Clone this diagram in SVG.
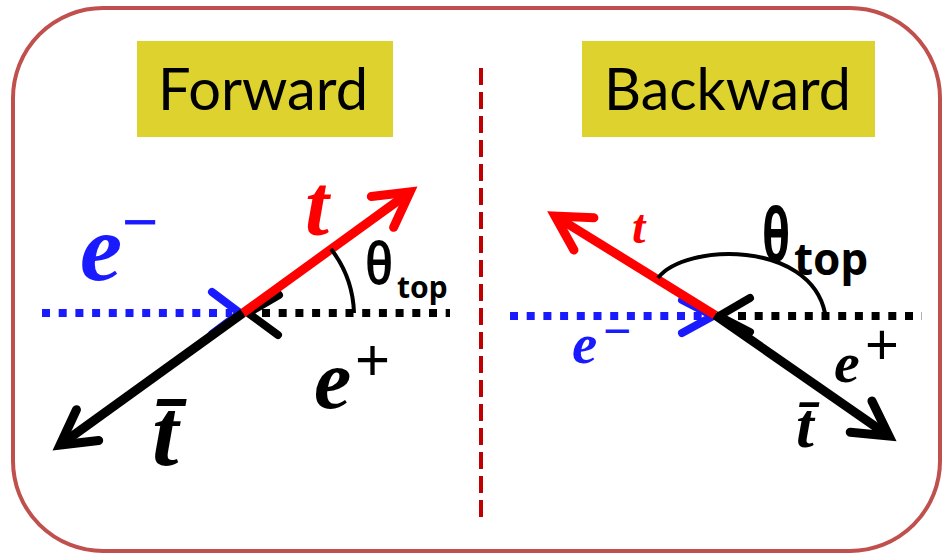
<svg xmlns="http://www.w3.org/2000/svg" width="943" height="555" viewBox="0 0 943 555">
<style>
.title{font-family:Lato,"Noto Sans","Liberation Sans",sans-serif;font-size:58px;fill:#000}
.m{font-family:"Liberation Serif","DejaVu Serif",serif;font-style:italic;font-weight:bold}
.op{font-family:"Liberation Sans",Arial,sans-serif;font-style:normal;font-weight:normal}
.th{font-family:"Noto Sans","Liberation Sans",sans-serif;fill:#000}
.dot{stroke-width:8;stroke-dasharray:8 8.7;fill:none}
.chev{stroke-width:8;fill:none;stroke-linecap:round;stroke-linejoin:miter}
.main{stroke-width:9;fill:none}
</style>
<defs>
<marker id="ahRed" markerUnits="userSpaceOnUse" orient="auto" refX="0" refY="0" overflow="visible">
<path d="M-34,-19 L0,0 L-34,19" fill="none" stroke="#ff0000" stroke-width="9" stroke-linecap="round"/>
</marker>
<marker id="ahBlack" markerUnits="userSpaceOnUse" orient="auto" refX="0" refY="0" overflow="visible">
<path d="M-34,-19 L0,0 L-34,19" fill="none" stroke="#000" stroke-width="9" stroke-linecap="round"/>
</marker>
</defs>
<rect id="frame" x="13" y="8" width="927" height="543" rx="90" ry="90" fill="#fff" stroke="#c0504d" stroke-width="4"/>
<line id="divider" x1="481" y1="68" x2="481" y2="518" stroke="#c00000" stroke-width="4" stroke-dasharray="17 7"/>
<g id="forward-title">
<rect x="137" y="41" width="256" height="96" fill="#ddd22e"/>
<text class="title" x="158" y="110" textLength="210" lengthAdjust="spacingAndGlyphs">Forward</text>
</g>
<g id="backward-title">
<rect x="582" y="41" width="293" height="96" fill="#ddd22e"/>
<text class="title" x="604" y="110" textLength="247" lengthAdjust="spacingAndGlyphs">Backward</text>
</g>
<g id="connectors">
<!-- forward -->
<line class="dot" x1="42" y1="313" x2="232" y2="313" stroke="#1a1aff"/>
<polyline class="chev" points="212,292 240,313 212,334" stroke="#1a1aff"/>
<line class="dot" x1="262" y1="313" x2="450" y2="313" stroke="#000"/>
<polyline class="chev" points="279,295 248,313 278,335" stroke="#000"/>
<line class="main" x1="243" y1="313" x2="60" y2="445" stroke="#000" marker-end="url(#ahBlack)"/>
<line class="main" x1="243" y1="313" x2="410" y2="192" stroke="#ff0000" marker-end="url(#ahRed)"/>
<path d="M331,249 A110,110 0 0 1 354,313" fill="none" stroke="#000" stroke-width="4"/>
<!-- backward -->
<line class="dot" x1="510" y1="316" x2="705" y2="316" stroke="#1a1aff"/>
<polyline class="chev" points="682,300 713,316 682,333" stroke="#1a1aff"/>
<line class="dot" x1="738" y1="316" x2="922" y2="316" stroke="#000"/>
<polyline class="chev" points="750,298 719,316 750,332" stroke="#000"/>
<line class="main" x1="715" y1="315" x2="889" y2="436" stroke="#000" marker-end="url(#ahBlack)"/>
<line class="main" x1="715" y1="315" x2="555" y2="216" stroke="#ff0000" marker-end="url(#ahRed)"/>
<path d="M658,278 C685,243 810,240 825,313" fill="none" stroke="#000" stroke-width="4"/>
</g>
<g id="forward-labels">
<text class="m" x="80" y="280" font-size="95" fill="#1a1aff">e<tspan class="op" x="122" y="243" font-size="62">−</tspan></text>
<text class="m" x="305" y="235" font-size="86" fill="#ff0000">t</text>
<text class="th" transform="translate(365,284) scale(0.8,1)" font-size="58" font-weight="600">θ</text>
<text class="th" x="397" y="298" font-size="30" font-weight="bold">top</text>
<text class="m" x="314" y="408" font-size="84" fill="#000">e<tspan class="op" x="355" y="380" font-size="60">+</tspan></text>
<text class="m" x="152" y="465" font-size="95" fill="#000">t̄</text>
</g>
<g id="backward-labels">
<text class="m" x="632" y="243" font-size="48" fill="#ff0000">t</text>
<text class="th" transform="translate(762,261) scale(0.62,1)" font-size="74" font-weight="bold">θ</text>
<text class="th" x="794" y="275" font-size="44" font-weight="bold">top</text>
<text class="m" x="572" y="363" font-size="57" fill="#1a1aff">e<tspan class="op" x="603" y="347" font-size="48">−</tspan></text>
<text class="m" x="834" y="382" font-size="58" fill="#000">e<tspan class="op" x="865" y="364" font-size="58">+</tspan></text>
<text class="m" x="796" y="447" font-size="64" fill="#000">t̄</text>
</g>
</svg>
